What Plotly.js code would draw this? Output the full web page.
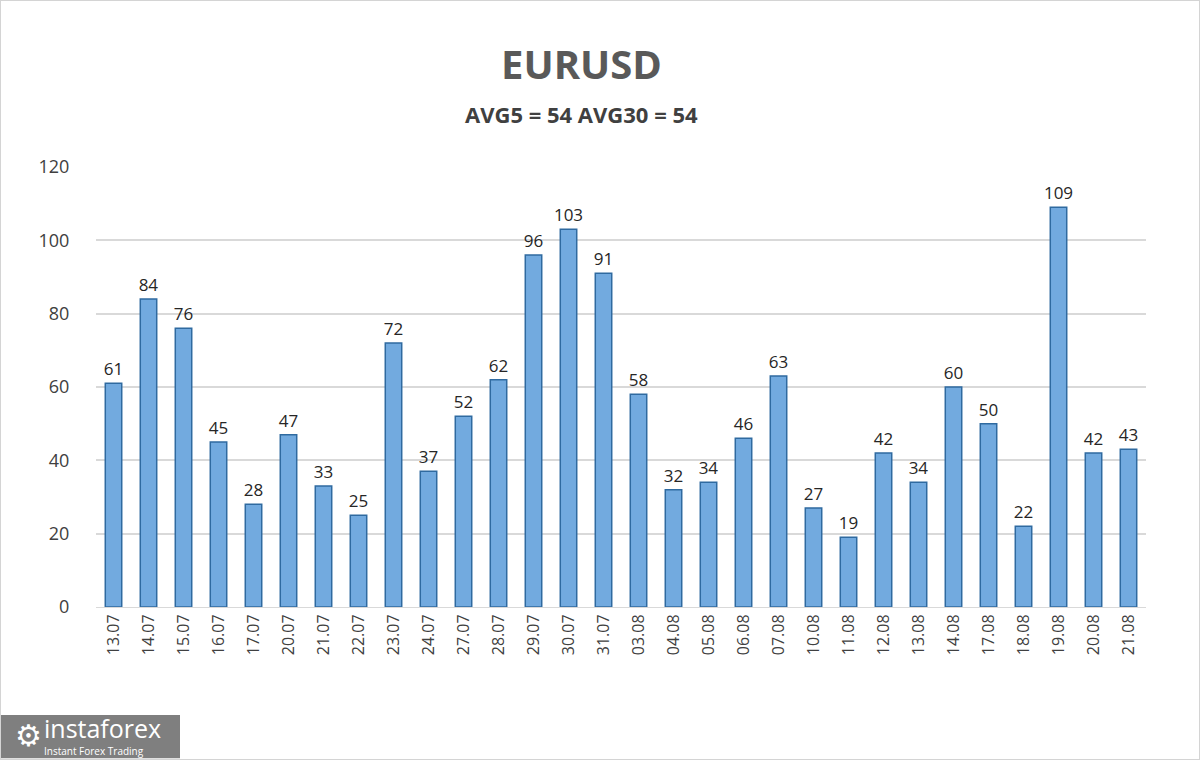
<!DOCTYPE html>
<html>
<head>
<meta charset="utf-8">
<script src="https://cdn.plot.ly/plotly-3.0.1.min.js"></script>
<style>
  html, body { margin: 0; padding: 0; background: #fff; }
  #chart { width: 1198px; height: 758px; border: 1px solid #d4d4d4; }
</style>
</head>
<body>
<div id="chart"></div>
<script>
var days = ["13.07", "14.07", "15.07", "16.07", "17.07", "20.07", "21.07", "22.07", "23.07", "24.07",
  "27.07", "28.07", "29.07", "30.07", "31.07", "03.08", "04.08", "05.08", "06.08", "07.08",
  "10.08", "11.08", "12.08", "13.08", "14.08", "17.08", "18.08", "19.08", "20.08", "21.08"];
var pips = [61, 84, 76, 45, 28, 47, 33, 25, 72, 37,
  52, 62, 96, 103, 91, 58, 32, 34, 46, 63,
  27, 19, 42, 34, 60, 50, 22, 109, 42, 43];
var avg5 = 54;
var avg30 = 54;

var trace = {
  type: 'bar',
  x: days,
  y: pips,
  text: pips.map(String),
  textposition: 'outside',
  constraintext: 'none',
  cliponaxis: false,
  textfont: {family: 'Open Sans, sans-serif', size: 17, color: '#262626'},
  marker: {
    color: '#72aadf',
    line: {color: '#2f6aa0', width: 1.5}
  },
  hoverinfo: 'x+y'
};

var layout = {
  width: 1198,
  height: 758,
  margin: {l: 95, r: 53, t: 166, b: 152},
  paper_bgcolor: '#ffffff',
  plot_bgcolor: '#ffffff',
  bargap: 0.53,
  showlegend: false,
  font: {family: 'Open Sans, sans-serif', color: '#404040'},
  xaxis: {
    type: 'category',
    tickangle: -90,
    tickfont: {size: 16, color: '#404040'},
    showgrid: false,
    showline: true,
    linecolor: '#d9d9d9',
    ticks: '',
    ticklen: 0
  },
  yaxis: {
    range: [0, 120],
    dtick: 20,
    tickfont: {size: 18, color: '#404040'},
    gridcolor: '#d9d9d9',
    gridwidth: 1.5,
    zeroline: false,
    ticks: 'outside',
    tickcolor: 'rgba(0,0,0,0)',
    ticklen: 22
  },
  shapes: [
    {
      type: 'rect', xref: 'paper', yref: 'paper', layer: 'above',
      x0: -0.0905, x1: 0.08, y0: -0.344, y1: -0.2455,
      fillcolor: '#7f7f7f', line: {width: 0}
    }
  ],
  annotations: [
    {
      text: '<b>EURUSD</b>',
      xref: 'paper', yref: 'paper', x: 0.462, y: 1.236,
      xanchor: 'center', yanchor: 'middle', showarrow: false,
      font: {size: 40, color: '#595959'}
    },
    {
      text: '<b>AVG5 = ' + avg5 + ' AVG30 = ' + avg30 + '</b>',
      xref: 'paper', yref: 'paper', x: 0.462, y: 1.12,
      xanchor: 'center', yanchor: 'middle', showarrow: false,
      font: {size: 22, color: '#404040'}
    },
    {
      text: '\u2699',
      xref: 'paper', yref: 'paper', x: -0.0795, y: -0.293,
      xanchor: 'left', yanchor: 'middle', showarrow: false,
      font: {family: 'DejaVu Sans', size: 30, color: '#ffffff'}
    },
    {
      text: 'instaforex',
      xref: 'paper', yref: 'paper', x: -0.0505, y: -0.275,
      xanchor: 'left', yanchor: 'middle', showarrow: false,
      borderpad: 0,
      font: {family: 'Open Sans, sans-serif', size: 25, color: '#ffffff'}
    },
    {
      text: 'Instant Forex Trading',
      xref: 'paper', yref: 'paper', x: -0.0505, y: -0.328,
      xanchor: 'left', yanchor: 'middle', showarrow: false,
      borderpad: 0,
      font: {family: 'Open Sans, sans-serif', size: 10, color: '#ffffff'}
    }
  ]
};

Plotly.newPlot('chart', [trace], layout, {displayModeBar: false});
</script>
</body>
</html>
